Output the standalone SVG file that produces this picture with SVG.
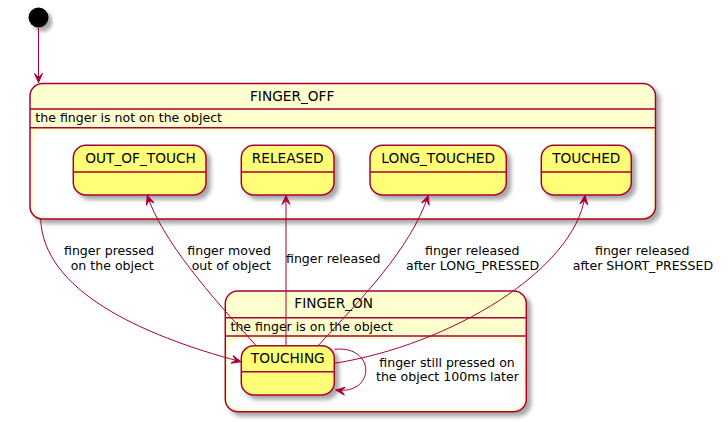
<svg xmlns="http://www.w3.org/2000/svg" width="728" height="422" viewBox="0 0 728 422">
<style>
text{font-family:"DejaVu Sans","Liberation Sans",sans-serif;fill:#000}
.name{font-size:13.7px}
.small{font-size:12.55px}
.comp{fill:#FEFECE;stroke:#A80036;stroke-width:1.5}
.body{fill:#FFFFFF;stroke:none}
.state{fill:#FFFF77;stroke:#A80036;stroke-width:1.5}
.div{stroke:#A80036;stroke-width:1.5;fill:none}
.edge{fill:none;stroke:#A80036;stroke-width:1;marker-end:url(#arr)}
</style>
<defs>
<filter id="sh" x="-10%" y="-10%" width="130%" height="140%">
<feGaussianBlur in="SourceAlpha" stdDeviation="2"/>
<feOffset dx="4" dy="4" result="b"/>
<feFlood flood-color="#000" flood-opacity="0.35"/>
<feComposite in2="b" operator="in"/>
<feMerge><feMergeNode/><feMergeNode in="SourceGraphic"/></feMerge>
</filter>
<marker id="arr" viewBox="-10 -5 11 10" refX="0" refY="0" markerWidth="11" markerHeight="10" markerUnits="userSpaceOnUse" orient="auto">
<path d="M0,0 L-9,-4 L-5,0 L-9,4 Z" fill="#A80036" stroke="#A80036" stroke-width="1"/>
</marker>
</defs>

<g id="start">
<circle cx="38.5" cy="17.5" r="10" fill="#000" filter="url(#sh)"/>
</g>

<g id="FINGER_OFF">
<rect class="comp" x="30" y="83.5" width="625.5" height="135.5" rx="12.5" filter="url(#sh)"/>
<line class="div" x1="30" y1="109" x2="655.5" y2="109"/>
<line class="div" x1="30" y1="127.7" x2="655.5" y2="127.7"/>
<rect class="body" x="33.3" y="130.8" width="619" height="86" rx="10"/>
<text class="name" x="250" y="101.2">FINGER_OFF</text>
<text class="small" x="35.3" y="121.5">the finger is not on the object</text>
</g>

<g id="OUT_OF_TOUCH">
<rect class="state" x="73.3" y="145.3" width="132.7" height="49.7" rx="12.5" filter="url(#sh)"/>
<line class="div" x1="73.3" y1="172" x2="206" y2="172"/>
<text class="name" x="85.3" y="163.3">OUT_OF_TOUCH</text>
</g>

<g id="RELEASED">
<rect class="state" x="241.3" y="145.3" width="92.7" height="49.7" rx="12.5" filter="url(#sh)"/>
<line class="div" x1="241.3" y1="172" x2="334" y2="172"/>
<text class="name" x="287.65" y="163.3" text-anchor="middle">RELEASED</text>
</g>

<g id="LONG_TOUCHED">
<rect class="state" x="370" y="145.3" width="136.3" height="49.7" rx="12.5" filter="url(#sh)"/>
<line class="div" x1="370" y1="172" x2="506.3" y2="172"/>
<text class="name" x="438.15" y="163.3" text-anchor="middle">LONG_TOUCHED</text>
</g>

<g id="TOUCHED">
<rect class="state" x="541.3" y="145.3" width="90" height="49.7" rx="12.5" filter="url(#sh)"/>
<line class="div" x1="541.3" y1="172" x2="631.3" y2="172"/>
<text class="name" x="586.3" y="163.3" text-anchor="middle">TOUCHED</text>
</g>

<g id="FINGER_ON">
<rect class="comp" x="225.3" y="291" width="301" height="120.7" rx="12.5" filter="url(#sh)"/>
<line class="div" x1="225.3" y1="317.7" x2="526.3" y2="317.7"/>
<line class="div" x1="225.3" y1="336" x2="526.3" y2="336"/>
<rect class="body" x="228.3" y="339" width="295" height="69.7" rx="10"/>
<text class="name" x="294.3" y="308.3">FINGER_ON</text>
<text class="small" x="230.5" y="330.5">the finger is on the object</text>
</g>

<g id="TOUCHING">
<rect class="state" x="241.3" y="345.7" width="93" height="49.3" rx="12.5" filter="url(#sh)"/>
<line class="div" x1="241.3" y1="371.7" x2="334.3" y2="371.7"/>
<text class="name" x="287.8" y="363.3" text-anchor="middle">TOUCHING</text>
</g>

<g id="connectors">
<path class="edge" d="M38.5,28 L38.5,82.5"/>
<path class="edge" d="M40.7,219 C43,290 140,335 240.7,361.7"/>
<text class="small" x="64" y="255">finger pressed</text>
<text class="small" x="70.7" y="269.5">on the object</text>

<path class="edge" d="M256,345.5 C210,295 162,240 147.3,195.5"/>
<text class="small" x="187.3" y="255">finger moved</text>
<text class="small" x="191.7" y="269.5">out of object</text>

<path class="edge" d="M286,345.5 L286,195.5"/>
<text class="small" x="286" y="263.3">finger released</text>

<path class="edge" d="M318.3,345.5 C360,300 410,250 428.3,195.5"/>
<text class="small" x="425" y="255">finger released</text>
<text class="small" x="406" y="270">after LONG_PRESSED</text>

<path class="edge" d="M334.5,363.3 C450,345 575,270 585,195.5"/>
<text class="small" x="595" y="255">finger released</text>
<text class="small" x="572.7" y="270">after SHORT_PRESSED</text>

<path class="edge" d="M334.5,349.3 C376,345 376,395 336,390"/>
<text class="small" x="379.3" y="366.7">finger still pressed on</text>
<text class="small" x="376" y="381">the object 100ms later</text>
</g>
</svg>
